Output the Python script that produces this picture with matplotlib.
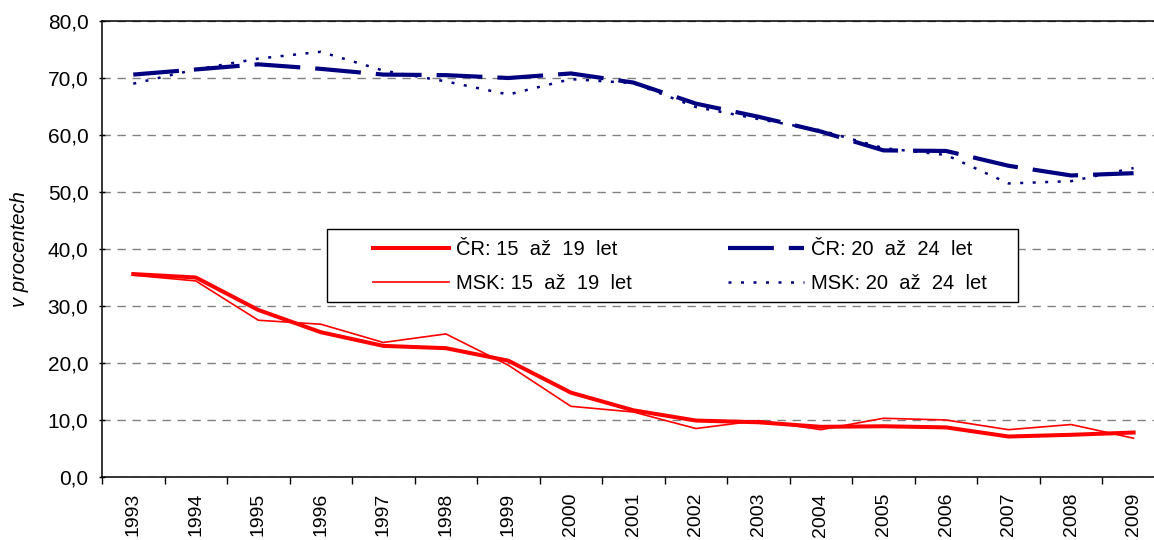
import numpy as np
import matplotlib
matplotlib.use('Agg')
import matplotlib.pyplot as plt
from matplotlib.ticker import FuncFormatter, FixedLocator
from matplotlib.patches import Rectangle

plt.rcParams['font.family'] = ['Liberation Sans', 'DejaVu Sans']

# data
roky = [str(r) for r in range(1993, 2010)]
cr_15_19 = [35.6, 35.0, 29.3, 25.4, 23.0, 22.6, 20.4, 14.8, 11.7, 9.9, 9.6, 8.8, 8.9, 8.7, 7.1, 7.4, 7.8]
msk_15_19 = [35.4, 34.4, 27.5, 26.8, 23.6, 25.1, 19.6, 12.4, 11.4, 8.5, 9.9, 8.3, 10.3, 10.0, 8.3, 9.2, 6.8]
cr_20_24 = [70.6, 71.5, 72.4, 71.6, 70.6, 70.5, 70.0, 70.8, 69.2, 65.5, 63.2, 60.6, 57.3, 57.2, 54.6, 52.9, 53.3]
msk_20_24 = [69.0, 71.5, 73.4, 74.6, 71.3, 69.4, 67.1, 69.8, 69.1, 64.9, 62.8, 60.8, 57.7, 56.5, 51.5, 51.9, 54.2]

nazvy = ['ČR: 15  až  19  let', 'MSK: 15  až  19  let', 'ČR: 20  až  24  let', 'MSK: 20  až  24  let']

fig = plt.figure(figsize=(11.54, 5.4), dpi=100)
# plocha grafu preteka pres pravy okraj obrazku (jako v originale)
ax = fig.add_axes([0.0884, 0.1167, 0.921, 0.8444])

x = np.arange(len(roky))
ax.plot(x, cr_15_19, color='#ff0000', lw=2.9, label=nazvy[0], zorder=4)
ax.plot(x, msk_15_19, color='#ff0000', lw=1.2, label=nazvy[1], zorder=4)
ax.plot(x, cr_20_24, color='#000080', lw=3.0, dashes=(11, 3.6), label=nazvy[2], zorder=4)
ax.plot(x, msk_20_24, color='#000080', lw=1.8, dashes=(1.2, 3.8), label=nazvy[3], zorder=4)

ax.set_xlim(-0.5, len(roky) - 0.5)
ax.set_ylim(0, 80)
ax.set_yticks(np.arange(0, 81, 10))
ax.yaxis.set_major_formatter(FuncFormatter(lambda v, p: ('%.1f' % v).replace('.', ',')))
ax.set_xticks(x)
ax.set_xticklabels(roky, rotation=90)
ax.xaxis.set_minor_locator(FixedLocator(np.arange(-0.5, len(roky), 1)))
ax.tick_params(axis='x', which='major', length=0, pad=11.5, labelsize=14)
ax.tick_params(axis='x', which='minor', length=5, width=1, color='black')
ax.tick_params(axis='y', direction='inout', length=4.5, width=1, labelsize=15, pad=7.5)

ax.yaxis.grid(True, linestyle=(0, (6, 4.8)), color='#808080', lw=1)
ax.set_axisbelow(True)
for s in ax.spines.values():
    s.set_color('black')
    s.set_linewidth(1.1)

ax.set_ylabel('v procentech', fontsize=14.5, style='italic')
ax.yaxis.set_label_coords(-0.0687, 0.5)

# ramecek legendy
ax.add_patch(Rectangle((0.2117, 0.3838), 0.650, 0.160, transform=ax.transAxes,
                       facecolor='white', edgecolor='black', lw=1, zorder=3))
leg = ax.legend(loc='upper left', bbox_to_anchor=(0.2549, 0.520), ncol=2, fontsize=14.5,
                frameon=False, handlelength=3.77, handletextpad=0.35, borderpad=0,
                borderaxespad=0, labelspacing=0.74, columnspacing=4.77)
leg.set_zorder(5)

fig.savefig('out.png', dpi=100)
